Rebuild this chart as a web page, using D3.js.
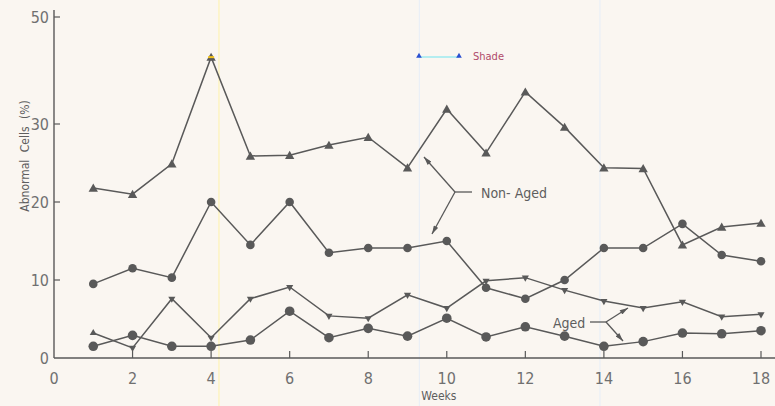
<!DOCTYPE html>
<html>
<head>
<meta charset="utf-8">
<script src="https://cdn.jsdelivr.net/npm/d3@7"></script>
<style>
  html, body { margin: 0; padding: 0; background: #faf6f1; }
  svg { display: block; }
  text { font-family: "Liberation Sans Narrow", "DejaVu Sans Condensed", "Liberation Sans", sans-serif; fill: #5e5e5e; }
  .tick-label { fill: #707070; }
</style>
</head>
<body>
<svg id="chart" width="775" height="406"></svg>
<script>
// Weeks of sampling
const weeks = [1,2,3,4,5,6,7,8,9,10,11,12,13,14,15,16,17,18];

// Abnormal cells (%) per week
const nonAgedTri    = [21.8,21.0,24.9,42.5,25.9,26.0,27.3,28.3,24.4,32.8,26.3,36.0,29.6,24.4,24.3,14.5,16.8,17.3];
const nonAgedCircle = [9.5,11.5,10.3,20.0,14.5,20.0,13.5,14.1,14.1,15.0,9.0,7.6,10.0,14.1,14.1,17.2,13.2,12.4];
const agedTri       = [3.2,1.3,7.6,2.6,7.6,9.1,5.4,5.1,8.1,6.4,9.9,10.3,8.7,7.3,6.4,7.2,5.3,5.6];
const agedCircle    = [1.5,2.9,1.5,1.5,2.3,6.0,2.6,3.8,2.8,5.1,2.7,4.0,2.8,1.5,2.1,3.2,3.1,3.5];

// Axis ticks
const xTicks = [0,2,4,6,8,10,12,14,16,18];
const yTicks = [0,10,20,30,50];

const svg = d3.select("#chart");
const ink = "#595959";

const x = d3.scaleLinear().domain([0, 18]).range([54, 761]);
// the printed axis compresses the span above 30
const y = d3.scaleLinear().domain([0, 30, 50]).range([358, 124, 17]);

// faint scanner streaks
svg.append("line").attr("x1", x(4.2)).attr("x2", x(4.2)).attr("y1", 0).attr("y2", 406)
  .attr("stroke", "#fff3a8").attr("stroke-width", 1.2).attr("opacity", 0.8);
svg.append("line").attr("x1", x(9.3)).attr("x2", x(9.3)).attr("y1", 0).attr("y2", 406)
  .attr("stroke", "#e6eef8").attr("stroke-width", 1);
svg.append("line").attr("x1", x(13.9)).attr("x2", x(13.9)).attr("y1", 0).attr("y2", 406)
  .attr("stroke", "#e6eef8").attr("stroke-width", 1);

// X axis
svg.append("line").attr("x1", x(0)).attr("x2", 775).attr("y1", y(0)).attr("y2", y(0))
  .attr("stroke", ink).attr("stroke-width", 1.4);
svg.selectAll(".xtick").data(xTicks.filter(d => d > 0)).enter().append("line")
  .attr("x1", d => x(d)).attr("x2", d => x(d)).attr("y1", y(0)).attr("y2", y(0) - 7)
  .attr("stroke", ink).attr("stroke-width", 1.2);
svg.selectAll(".xlab").data(xTicks).enter().append("text")
  .attr("class", "tick-label")
  .attr("x", d => x(d)).attr("y", 384).attr("text-anchor", "middle")
  .attr("font-size", 16).text(d => d);
svg.append("text").attr("x", x(9.8)).attr("y", 400).attr("text-anchor", "middle")
  .attr("font-size", 12).text("Weeks");

// Y axis
svg.append("line").attr("x1", x(0)).attr("x2", x(0)).attr("y1", 10).attr("y2", y(0))
  .attr("stroke", ink).attr("stroke-width", 1.4);
svg.selectAll(".ytick").data(yTicks.filter(d => d > 0)).enter().append("line")
  .attr("x1", x(0)).attr("x2", x(0) + 6).attr("y1", d => y(d)).attr("y2", d => y(d))
  .attr("stroke", ink).attr("stroke-width", 1.2);
svg.selectAll(".ylab").data(yTicks).enter().append("text")
  .attr("class", "tick-label")
  .attr("x", 49).attr("y", d => y(d) + 6).attr("text-anchor", "end")
  .attr("font-size", 16).text(d => d);
svg.append("text").attr("transform", "translate(29,156) rotate(-90)")
  .attr("text-anchor", "middle").attr("font-size", 12).attr("word-spacing", 4)
  .text("Abnormal Cells (%)");

// Series lines
const line = d3.line().x((d, i) => x(weeks[i])).y(d => y(d));
[nonAgedTri, nonAgedCircle, agedTri, agedCircle].forEach(s => {
  svg.append("path").datum(s).attr("d", line)
    .attr("fill", "none").attr("stroke", ink).attr("stroke-width", 1.5);
});

// Markers
const upTri = d3.symbol().type(d3.symbolTriangle).size(38);
svg.selectAll(".nat").data(nonAgedTri).enter().append("path")
  .attr("d", upTri).attr("transform", (d, i) => `translate(${x(weeks[i])},${y(d) + 1})`)
  .attr("fill", ink);
const smallTri = d3.symbol().type(d3.symbolTriangle).size(22);
svg.selectAll(".at").data(agedTri).enter().append("path")
  .attr("d", smallTri).attr("transform", (d, i) => `translate(${x(weeks[i])},${y(d)}) rotate(${i === 0 ? 0 : 180})`)
  .attr("fill", ink);
svg.selectAll(".nac").data(nonAgedCircle).enter().append("circle")
  .attr("cx", (d, i) => x(weeks[i])).attr("cy", d => y(d)).attr("r", 4.3).attr("fill", ink);
svg.selectAll(".ac").data(agedCircle).enter().append("circle")
  .attr("cx", (d, i) => x(weeks[i])).attr("cy", d => y(d)).attr("r", 4.8).attr("fill", ink);

// Peak highlight at week 4
svg.append("rect").attr("x", x(4) - 3).attr("y", y(nonAgedTri[3]) - 1).attr("width", 6).attr("height", 2)
  .attr("fill", "#f2c21b");

// Callout arrows
svg.append("defs").append("marker").attr("id", "arr")
  .attr("viewBox", "0 0 10 6").attr("refX", 10).attr("refY", 3)
  .attr("markerWidth", 10).attr("markerHeight", 5).attr("orient", "auto")
  .attr("markerUnits", "userSpaceOnUse")
  .append("path").attr("d", "M0,0 L10,3 L0,6 Z").attr("fill", ink);

function callout(hx, hy, ex, ey, tips) {
  svg.append("line").attr("x1", hx).attr("y1", hy).attr("x2", ex).attr("y2", ey)
    .attr("stroke", ink).attr("stroke-width", 1.3);
  tips.forEach(t => {
    svg.append("line").attr("x1", hx).attr("y1", hy).attr("x2", t[0]).attr("y2", t[1])
      .attr("stroke", ink).attr("stroke-width", 1.3).attr("marker-end", "url(#arr)");
  });
}
callout(455, 192, 472, 192, [[424, 157], [432, 234]]);
svg.append("text").attr("x", 481).attr("y", 198).attr("font-size", 14).text("Non- Aged");

callout(606, 322, 590, 322, [[628, 308], [623, 341]]);
svg.append("text").attr("x", 553).attr("y", 328).attr("font-size", 14).text("Aged");

// Shade key
svg.append("line").attr("x1", 419).attr("x2", 459).attr("y1", 57).attr("y2", 57)
  .attr("stroke", "#6fe3f0").attr("stroke-width", 1.2);
svg.selectAll(".keytri").data([419, 459]).enter().append("path")
  .attr("d", d3.symbol().type(d3.symbolTriangle).size(14))
  .attr("transform", d => `translate(${d},56)`).attr("fill", "#2a4fd0");
svg.append("text").attr("x", 473).attr("y", 60).attr("font-size", 11)
  .style("fill", "#b04a6a").text("Shade");
</script>
</body>
</html>
